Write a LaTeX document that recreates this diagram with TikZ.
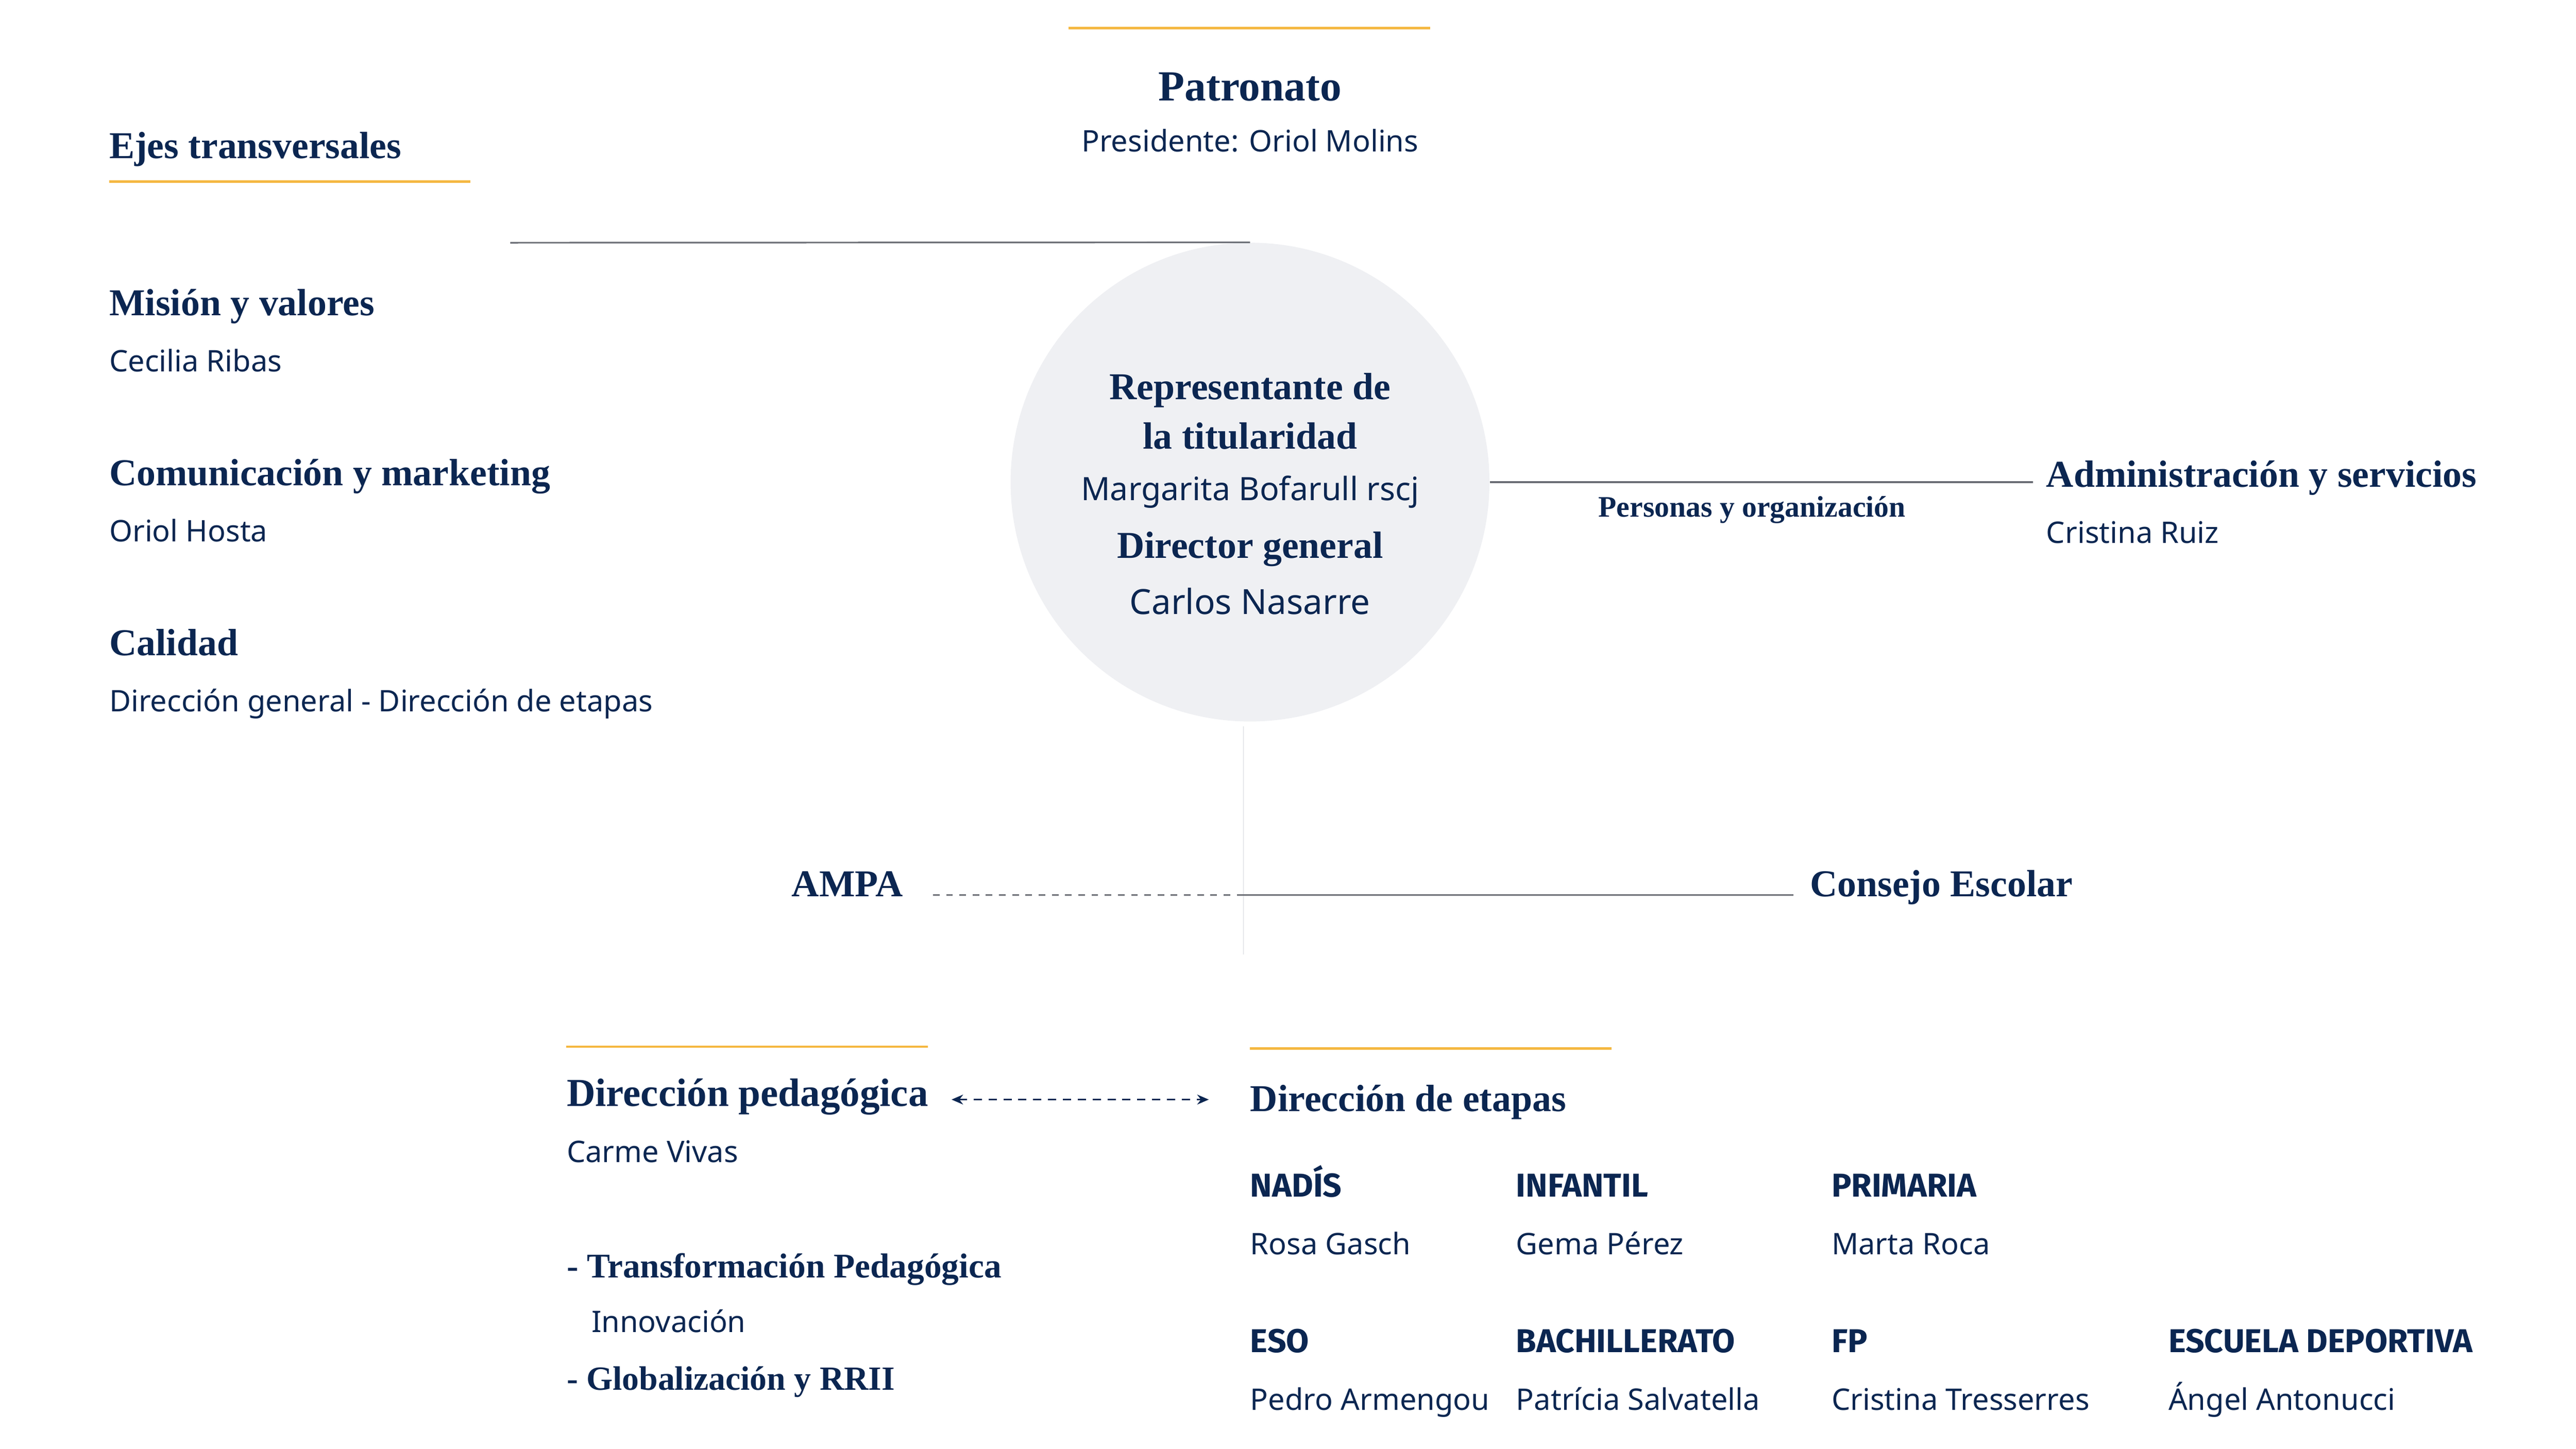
\documentclass[tikz,border=0pt]{standalone}
\usepackage{fontspec}
\setmainfont{Liberation Serif}
\setsansfont{Noto Sans}
\newfontfamily\stagefont{Fira Sans}
\usetikzlibrary{arrows.meta,positioning}
\definecolor{navy}{HTML}{0B2651}
\definecolor{gold}{HTML}{F5B841}
\definecolor{circlegray}{HTML}{EFF0F3}
\definecolor{linegray}{HTML}{6B6E75}
\definecolor{palegray}{HTML}{D5D8DE}
\begin{document}
\begin{tikzpicture}[x=1pt,y=-1pt]
\tikzset{
  head/.style={font=\bfseries\fontsize{23}{27}\selectfont, text=navy, inner sep=0pt, anchor=base west},
  person/.style={font=\sffamily\fontsize{18}{21}\selectfont, text=navy, inner sep=0pt, anchor=base west},
  stage/.style={font=\stagefont\bfseries\fontsize{20}{23}\selectfont, text=navy, inner sep=0pt, anchor=base west},
  goldrule/.style={draw=gold, line width=1.5pt},
  link/.style={draw=linegray, line width=1pt}
}
\useasboundingbox (0,0) rectangle (1560,877.5);
% top
\draw[goldrule] (647,17) -- (866,17);
\node[head, anchor=base, font=\bfseries\fontsize{26}{30}\selectfont] (patronato) at (757,61) {Patronato};
\node[person, anchor=base] (presidente) at (757,92) {Presidente: Oriol Molins};
% ejes transversales
\node[head] (ejes) at (66,96) {Ejes transversales};
\draw[goldrule] (66,110) -- (285,110);
\node[head] (mision) at (66,191) {Misión y valores};
\node[person] (cecilia) at (66,225) {Cecilia Ribas};
\node[head] (comunicacion) at (66,294) {Comunicación y marketing};
\node[person] (hosta) at (66,328) {Oriol Hosta};
\node[head] (calidad) at (66,397) {Calidad};
\node[person] (calidadp) at (66,431) {Dirección general - Dirección de etapas};
% centre
\node[circle, fill=circlegray, minimum size=290pt, inner sep=0pt] (centre) at (757,292) {};
\node[head, anchor=base] (rep1) at (757,242) {Representante de};
\node[head, anchor=base] (rep2) at (757,272) {la titularidad};
\node[person, anchor=base, font=\sffamily\fontsize{19.5}{22}\selectfont] (margarita) at (757,303) {Margarita Bofarull rscj};
\node[head, anchor=base] (director) at (757,338) {Director general};
\node[person, anchor=base, font=\sffamily\fontsize{21}{24}\selectfont] (carlos) at (757,372) {Carlos Nasarre};
\coordinate (topleft) at (309,147);
\draw[link] (topleft) -- (centre.north);
% right branch
\node[head] (admin) at (1239,295) {Administración y servicios};
\node[person] (ruiz) at (1239,329) {Cristina Ruiz};
\draw[link] (centre.east) -- ([xshift=-8pt]admin.west |- centre.east) coordinate (adminend);
\node[head, anchor=base, font=\bfseries\fontsize{18}{21}\selectfont] (personas) at (1061,313) {Personas y organización};
% lower branch
\coordinate (trunkend) at (753,578);
\coordinate (junction) at (753,542);
\draw[draw=palegray, line width=0.6pt] (753,440) -- (trunkend);
\node[head, anchor=base east] (ampa) at (547,543) {AMPA};
\node[head] (consejo) at (1096,543) {Consejo Escolar};
\draw[link, dash pattern=on 4pt off 4pt] ([xshift=18pt]ampa.east |- junction) -- (junction);
\draw[link] (junction) -- ([xshift=-10pt]consejo.west |- junction);
% direccion pedagogica
\draw[goldrule] (343,634) -- (562,634);
\node[head, font=\bfseries\fontsize{24}{28}\selectfont] (pedagogica) at (343,670) {Dirección pedagógica};
\node[person] (carme) at (343,704) {Carme Vivas};
\node[head, font=\bfseries\fontsize{21}{25}\selectfont] (transf) at (343,774) {- Transformación Pedagógica};
\node[person] (innov) at (358,807) {Innovación};
\node[head, font=\bfseries\fontsize{20.5}{25}\selectfont] (global) at (343,842) {- Globalización y RRII};
% direccion de etapas
\draw[goldrule] (757,635) -- (976,635);
\node[head] (etapas) at (757,673) {Dirección de etapas};
\coordinate (arrowy) at ([yshift=4pt]pedagogica.base east);
\draw[navy, line width=0.9pt, dash pattern=on 5pt off 4pt, {Stealth[length=7pt,width=6pt]}-{Stealth[length=7pt,width=6pt]}]
  ([xshift=14pt]arrowy) -- ([xshift=-25pt]etapas.west |- arrowy);
\node[stage] (nadis) at (757,725) {NADÍS};
\node[person] (rosa) at (757,760) {Rosa Gasch};
\node[stage] (infantil) at (918,725) {INFANTIL};
\node[person] (gema) at (918,760) {Gema Pérez};
\node[stage] (primaria) at (1109,725) {PRIMARIA};
\node[person] (marta) at (1109,760) {Marta Roca};
\node[stage] (eso) at (757,819) {ESO};
\node[person] (pedro) at (757,854) {Pedro Armengou};
\node[stage] (bach) at (918,819) {BACHILLERATO};
\node[person] (patricia) at (918,854) {Patrícia Salvatella};
\node[stage] (fp) at (1109,819) {FP};
\node[person] (tresserres) at (1109,854) {Cristina Tresserres};
\node[stage] (deportiva) at (1313,819) {ESCUELA DEPORTIVA};
\node[person] (angel) at (1313,854) {Ángel Antonucci};
\end{tikzpicture}
\end{document}
